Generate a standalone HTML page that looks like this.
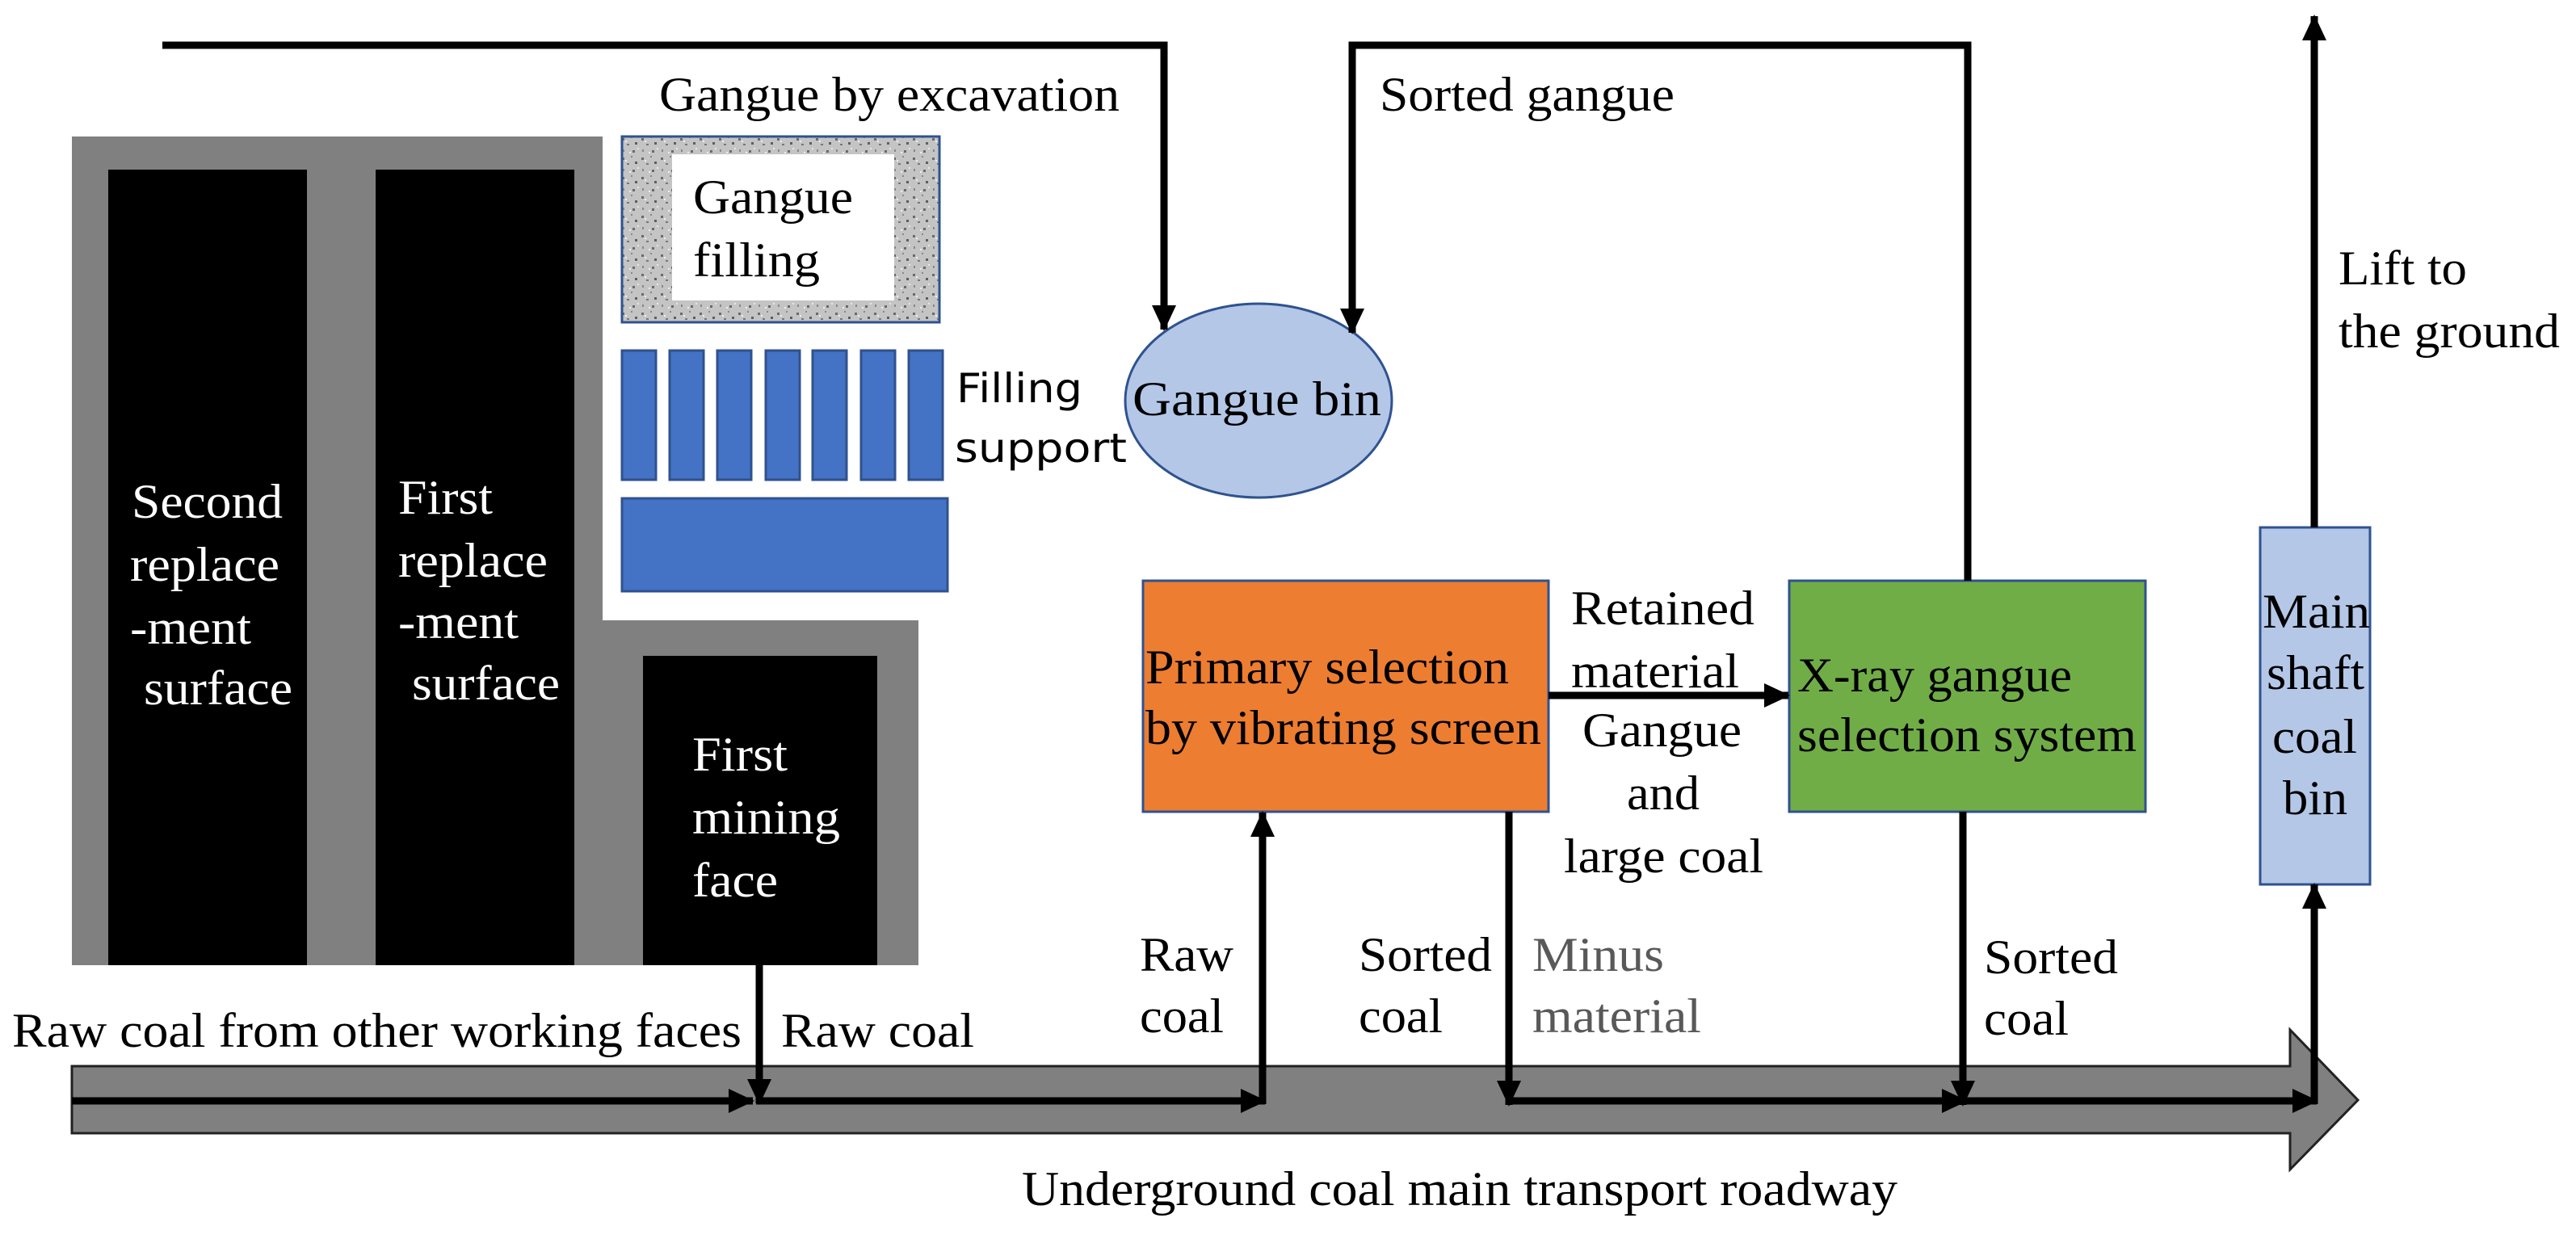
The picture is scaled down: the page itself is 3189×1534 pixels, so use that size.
<!DOCTYPE html>
<html><head><meta charset="utf-8"><style>
html,body{margin:0;padding:0;background:#fff;}
svg{display:block;}
</style></head><body>
<svg width="3189" height="1534" viewBox="0 0 3189 1534" xmlns="http://www.w3.org/2000/svg" font-family="'Liberation Serif', serif" font-size="60">
<defs>
<marker id="a" markerWidth="32" markerHeight="30" refX="30" refY="15" orient="auto" markerUnits="userSpaceOnUse" viewBox="0 0 32 30">
<path d="M0,0 L32,15 L0,30 z" fill="#000"/></marker>
<pattern id="dots" width="24" height="24" patternUnits="userSpaceOnUse">
<rect width="24" height="24" fill="#c4c4c4"/>
<rect x="2" y="3" width="3" height="3" fill="#6a6a6a"/>
<rect x="13" y="1" width="2" height="2" fill="#888"/>
<rect x="8" y="10" width="3" height="2" fill="#777"/>
<rect x="18" y="8" width="3" height="3" fill="#5e5e5e"/>
<rect x="3" y="17" width="2" height="3" fill="#888"/>
<rect x="15" y="18" width="3" height="3" fill="#6a6a6a"/>
<rect x="21" y="15" width="2" height="2" fill="#e8e8e8"/>
<rect x="6" y="6" width="2" height="2" fill="#eee"/>
<rect x="11" y="20" width="2" height="2" fill="#eee"/>
</pattern>
</defs>

<path d="M89,169 H746 V768 H1137 V1195 H89 Z" fill="#808080"/>
<rect x="134" y="210" width="246" height="985" fill="#000"/>
<rect x="465" y="210" width="246" height="985" fill="#000"/>
<rect x="796" y="812" width="290" height="383" fill="#000"/>
<g fill="#fff" font-family="'Liberation Serif', serif" lengthAdjust="spacingAndGlyphs">
<text x="163" y="641" textLength="187" lengthAdjust="spacingAndGlyphs">Second</text>
<text x="161" y="719" textLength="185" lengthAdjust="spacingAndGlyphs">replace</text>
<text x="161" y="797" textLength="150" lengthAdjust="spacingAndGlyphs">-ment</text>
<text x="178" y="872" textLength="184" lengthAdjust="spacingAndGlyphs">surface</text>
<text x="493" y="636" textLength="117" lengthAdjust="spacingAndGlyphs">First</text>
<text x="493" y="714" textLength="185" lengthAdjust="spacingAndGlyphs">replace</text>
<text x="493" y="790" textLength="149" lengthAdjust="spacingAndGlyphs">-ment</text>
<text x="510" y="866" textLength="183" lengthAdjust="spacingAndGlyphs">surface</text>
<text x="857" y="954" textLength="118" lengthAdjust="spacingAndGlyphs">First</text>
<text x="857" y="1032" textLength="183" lengthAdjust="spacingAndGlyphs">mining</text>
<text x="857" y="1110" textLength="106" lengthAdjust="spacingAndGlyphs">face</text>
</g>

<rect x="770" y="169" width="393" height="230" fill="url(#dots)" stroke="#2F528F" stroke-width="3"/>
<rect x="832" y="191" width="275" height="181" fill="#fff"/>
<text x="858" y="264" textLength="198" lengthAdjust="spacingAndGlyphs">Gangue</text>
<text x="858" y="342" textLength="157" lengthAdjust="spacingAndGlyphs">filling</text>

<g fill="#4472C4" stroke="#2F528F" stroke-width="3">
<rect x="770" y="434" width="42" height="160"/>
<rect x="829" y="434" width="42" height="160"/>
<rect x="888" y="434" width="42" height="160"/>
<rect x="948" y="434" width="42" height="160"/>
<rect x="1006" y="434" width="42" height="160"/>
<rect x="1066" y="434" width="42" height="160"/>
<rect x="1125" y="434" width="42" height="160"/>
<rect x="770" y="617" width="403" height="115"/>
</g>
<g font-family="'DejaVu Sans', 'Liberation Sans', sans-serif" font-size="50">
<text x="1184" y="498" textLength="156" lengthAdjust="spacingAndGlyphs">Filling</text>
<text x="1182" y="572" textLength="213" lengthAdjust="spacingAndGlyphs">support</text>
</g>

<ellipse cx="1558" cy="496" rx="165" ry="120" fill="#B4C7E7" stroke="#2F528F" stroke-width="3"/>
<text x="1402" y="514" textLength="308" lengthAdjust="spacingAndGlyphs">Gangue bin</text>

<rect x="1415" y="719" width="502" height="286" fill="#ED7D31" stroke="#2F528F" stroke-width="3"/>
<text x="1418" y="846" textLength="450" lengthAdjust="spacingAndGlyphs">Primary selection</text>
<text x="1418" y="921" textLength="490" lengthAdjust="spacingAndGlyphs">by vibrating screen</text>
<rect x="2215" y="719" width="441" height="286" fill="#70AD47" stroke="#2F528F" stroke-width="3"/>
<text x="2225" y="856" textLength="340" lengthAdjust="spacingAndGlyphs">X-ray gangue</text>
<text x="2225" y="930" textLength="420" lengthAdjust="spacingAndGlyphs">selection system</text>
<rect x="2798" y="653" width="136" height="442" fill="#B4C7E7" stroke="#2F528F" stroke-width="3"/>
<text x="2801" y="777" textLength="133" lengthAdjust="spacingAndGlyphs">Main</text>
<text x="2806" y="853" textLength="121" lengthAdjust="spacingAndGlyphs">shaft</text>
<text x="2813" y="932" textLength="105" lengthAdjust="spacingAndGlyphs">coal</text>
<text x="2826" y="1008" textLength="80" lengthAdjust="spacingAndGlyphs">bin</text>
<text x="1945" y="773" textLength="227" lengthAdjust="spacingAndGlyphs">Retained</text>
<text x="1945" y="851" textLength="208" lengthAdjust="spacingAndGlyphs">material</text>
<text x="1959" y="924" textLength="197" lengthAdjust="spacingAndGlyphs">Gangue</text>
<text x="2014" y="1002" textLength="90" lengthAdjust="spacingAndGlyphs">and</text>
<text x="1936" y="1080" textLength="247" lengthAdjust="spacingAndGlyphs">large coal</text>

<path d="M89,1320 H2835 V1275 L2919,1362 L2835,1448 V1403 H89 Z" fill="#808080" stroke="#222" stroke-width="3"/>

<g fill="none" stroke="#000" stroke-width="9">
<path d="M201,56 H1441 V408" marker-end="url(#a)"/>
<path d="M2436,719 V56 H1674 V412" marker-end="url(#a)"/>
<path d="M2865,653 V20" marker-end="url(#a)"/>
<path d="M89,1363 H932" marker-end="url(#a)"/>
<path d="M940,1195 V1366" marker-end="url(#a)"/>
<path d="M936,1363 H1566" marker-end="url(#a)"/>
<path d="M1563,1367 V1006" marker-end="url(#a)"/>
<path d="M1917,861 H2214" marker-end="url(#a)"/>
<path d="M1868,1005 V1368" marker-end="url(#a)"/>
<path d="M1864,1363 H2434" marker-end="url(#a)"/>
<path d="M2430,1005 V1368" marker-end="url(#a)"/>
<path d="M2426,1363 H2868" marker-end="url(#a)"/>
<path d="M2865,1367 V1095" marker-end="url(#a)"/>
</g>

<text x="816" y="137" textLength="570" lengthAdjust="spacingAndGlyphs">Gangue by excavation</text>
<text x="1708" y="137" textLength="365" lengthAdjust="spacingAndGlyphs">Sorted gangue</text>
<text x="2895" y="352" textLength="159" lengthAdjust="spacingAndGlyphs">Lift to</text>
<text x="2895" y="430" textLength="274" lengthAdjust="spacingAndGlyphs">the ground</text>
<text x="15" y="1296" textLength="903" lengthAdjust="spacingAndGlyphs">Raw coal from other working faces</text>
<text x="967" y="1296" textLength="239" lengthAdjust="spacingAndGlyphs">Raw coal</text>
<text x="1411" y="1202" textLength="116" lengthAdjust="spacingAndGlyphs">Raw</text>
<text x="1411" y="1278" textLength="104" lengthAdjust="spacingAndGlyphs">coal</text>
<text x="1682" y="1202" textLength="165" lengthAdjust="spacingAndGlyphs">Sorted</text>
<text x="1682" y="1278" textLength="104" lengthAdjust="spacingAndGlyphs">coal</text>
<text x="1897" y="1202" fill="#595959" textLength="163" lengthAdjust="spacingAndGlyphs">Minus</text>
<text x="1897" y="1278" fill="#595959" textLength="209" lengthAdjust="spacingAndGlyphs">material</text>
<text x="2456" y="1205" textLength="166" lengthAdjust="spacingAndGlyphs">Sorted</text>
<text x="2456" y="1281" textLength="105" lengthAdjust="spacingAndGlyphs">coal</text>
<text x="1265" y="1492" textLength="1084" lengthAdjust="spacingAndGlyphs">Underground coal main transport roadway</text>
</svg>
</body></html>
